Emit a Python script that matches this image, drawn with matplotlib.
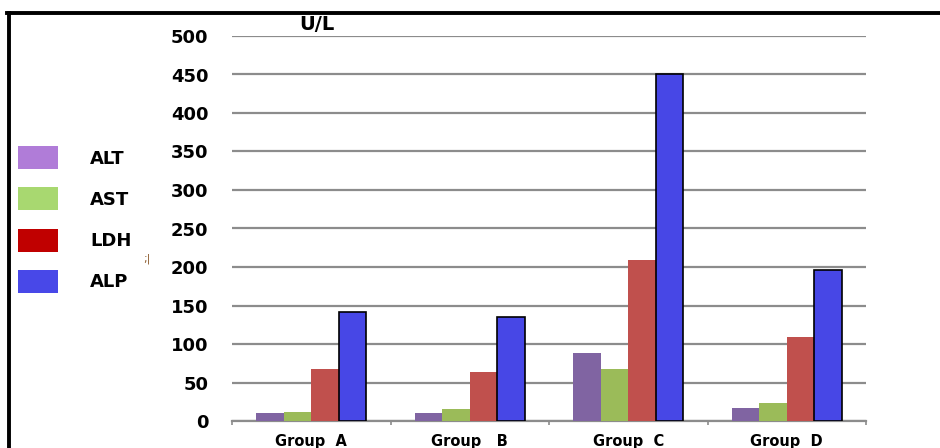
import matplotlib.pyplot as plt
from matplotlib.patches import Patch
from matplotlib.lines import Line2D
import numpy as np

groups = ['Group  A', 'Group   B', 'Group  C', 'Group  D']
series = ['ALT', 'AST', 'LDH', 'ALP']
alt = [10, 10, 88, 17]
ast = [12, 15, 67, 23]
ldh = [67, 64, 209, 109]
alp = [142, 135, 450, 196]
yticks = [0, 50, 100, 150, 200, 250, 300, 350, 400, 450, 500]

bar_colors = ['#8064A2', '#9BBB59', '#C0504D', '#4747E6']
legend_colors = ['#B07CD8', '#A8D870', '#C00000', '#4848E8']

fig = plt.figure(figsize=(9.4, 4.48), dpi=100)
ax = fig.add_axes([232/940, 1-421/448, 634/940, 385/448])

x = np.arange(len(groups))
w = 0.174
values = [alt, ast, ldh, alp]
for i, vals in enumerate(values):
    edge = 'black' if series[i] == 'ALP' else 'none'
    ax.bar(x + (i - 1.5) * w, vals, w, color=bar_colors[i],
           edgecolor=edge, linewidth=1.2, zorder=3)

ax.set_xlim(-0.5, 3.5)
ax.set_ylim(0, 500)
ax.set_yticks(yticks)
ax.set_yticklabels([str(v) for v in yticks], fontsize=13, fontweight='bold')
ax.tick_params(axis='y', length=0, pad=17)
ax.yaxis.grid(True, color='#8C8C8C', linewidth=1.6, zorder=0)
ax.set_xticks(x)
ax.set_xticklabels(groups, fontsize=10.5, fontweight='bold')
ax.tick_params(axis='x', which='major', length=0, pad=9)
ax.set_xticks(np.arange(-0.5, 4, 1), minor=True)
ax.tick_params(axis='x', which='minor', length=3, color='#8C8C8C', width=1.2)
for s in ['top', 'right', 'left']:
    ax.spines[s].set_visible(False)
ax.spines['bottom'].set_color('#8C8C8C')
ax.spines['bottom'].set_linewidth(1.6)

handles = [Patch(facecolor=c, edgecolor='none') for c in legend_colors]
fig.legend(handles, series, loc='upper left', bbox_to_anchor=(18/940, 1-146/448),
           frameon=False, borderpad=0, borderaxespad=0,
           prop={'size': 13, 'weight': 'bold'},
           handlelength=2.2, handleheight=1.6, labelspacing=1.0, handletextpad=1.8)

fig.text(317/940, 1-24/448, 'U/L', fontsize=14, fontweight='bold', ha='center', va='center')
fig.text(147/940, 1-259/448, ';|', fontsize=8, color='#8B5A2B', ha='center', va='center')

# black frame lines at top and left
fig.add_artist(Line2D([7/940, 1], [1-13/448, 1-13/448], color='black', linewidth=2.8,
                      transform=fig.transFigure))
fig.add_artist(Line2D([8.5/940, 8.5/940], [0, 1-13/448], color='black', linewidth=2.8,
                      transform=fig.transFigure))

fig.savefig('out.png', dpi=100)
